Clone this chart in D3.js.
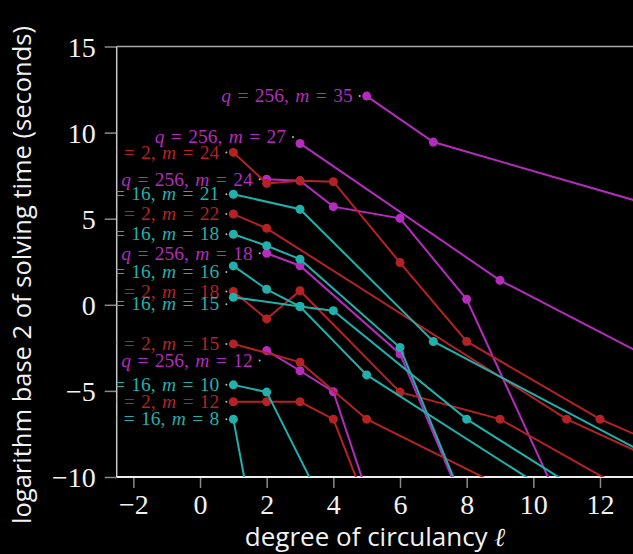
<!DOCTYPE html>
<html>
<head>
<meta charset="utf-8">
<script src="https://cdn.jsdelivr.net/npm/d3@7"></script>
<style>
  html, body { margin: 0; padding: 0; background: #000; overflow: hidden; }
  svg { display: block; }
</style>
</head>
<body>
<div id="chart"></div>
<script>
// degree of circulancy (x) and log2 of solving time (y), one array per run
const q256m35 = [[5, 12.12], [7, 9.45], [15, 4.97]];
const q256m27 = [[3, 9.37], [9, 1.42], [15, -4.58]];
const q256m24 = [[2, 7.29], [3, 7.2], [4, 5.7], [6, 5.02], [8, 0.32], [12, -16.6]];
const q256m18 = [[2, 2.99], [3, 2.27], [6, -2.85], [8, -12.07]];
const q256m12 = [[2, -2.66], [3, -3.83], [4, -5.05], [5, -10.87]];

const q2m24 = [[1, 8.85], [2, 7.05], [3, 7.2], [4, 7.15], [6, 2.45], [8, -2.13], [12, -6.64], [15, -9.16]];
const q2m22 = [[1, 5.27], [2, 4.44], [11, -6.64], [15, -10.2]];
const q2m18 = [[1, 0.77], [2, -0.82], [3, 0.82], [6, -5.07], [9, -6.64], [13, -11.0]];
const q2m15 = [[1, -2.27], [3, -3.33], [5, -6.64], [9, -10.5]];
const q2m12 = [[1, -5.63], [2, -5.63], [3, -5.63], [4, -6.64], [5, -11.6]];

const q16m21 = [[1, 6.42], [3, 5.55], [7, -2.13], [15, -10.3]];
const q16m18 = [[1, 4.1], [2, 3.43], [3, 2.65], [6, -2.48], [8, -11.88]];
const q16m16 = [[1, 2.26], [2, 0.9], [3, -0.1], [5, -4.07], [11, -11.5]];
const q16m15 = [[1, 0.44], [3, -0.1], [4, -0.34], [8, -6.64], [11, -10.3]];
const q16m10 = [[1, -4.65], [2, -5.07], [4, -12.77]];
const q16m8 = [[1, -6.64], [2, -17.0]];

const xTicks = [-2, 0, 2, 4, 6, 8, 10, 12];
const yTicks = [-10, -5, 0, 5, 10, 15];

const runs = [
  { q: 256, m: 35, points: q256m35 },
  { q: 256, m: 27, points: q256m27 },
  { q: 256, m: 24, points: q256m24 },
  { q: 256, m: 18, points: q256m18 },
  { q: 256, m: 12, points: q256m12 },
  { q: 2, m: 24, points: q2m24 },
  { q: 2, m: 22, points: q2m22 },
  { q: 2, m: 18, points: q2m18 },
  { q: 2, m: 15, points: q2m15 },
  { q: 2, m: 12, points: q2m12 },
  { q: 16, m: 21, points: q16m21 },
  { q: 16, m: 18, points: q16m18 },
  { q: 16, m: 16, points: q16m16 },
  { q: 16, m: 15, points: q16m15 },
  { q: 16, m: 10, points: q16m10 },
  { q: 16, m: 8, points: q16m8 }
];

const colors = { 2: '#b52226', 16: '#21b0ab', 256: '#b52bbd' };
// labels nudged up or down so they do not collide
const labelShift = { '256-27': -6.5, '16-16': 6, '16-15': 7, '256-12': 10 };

const width = 633;
const height = 554;
const margin = { top: 46.5, left: 116.7, bottom: 77 };

const x = d3.scaleLinear().domain([-2.5, 16]).range([margin.left, margin.left + 18.5 * 33.33]);
const y = d3.scaleLinear().domain([-10, 15]).range([height - margin.bottom, margin.top]);

const svg = d3.select('#chart').append('svg')
  .attr('width', width)
  .attr('height', height);

svg.append('defs').append('clipPath').attr('id', 'plot')
  .append('rect')
  .attr('x', margin.left)
  .attr('y', margin.top)
  .attr('width', width - margin.left)
  .attr('height', y(-10) - margin.top);

// axes
const minus = d => d < 0 ? '\u2212' + Math.abs(d) : d;
const xAxis = d3.axisBottom(x).tickValues(xTicks).tickSize(11).tickPadding(6).tickFormat(minus);
const yAxis = d3.axisLeft(y).tickValues(yTicks).tickSize(12).tickPadding(9).tickFormat(minus);

const gx = svg.append('g').attr('transform', `translate(0, ${y(-10)})`).call(xAxis);
const gy = svg.append('g').attr('transform', `translate(${margin.left}, 0)`).call(yAxis);

[gx, gy].forEach(g => {
  g.select('.domain').remove();
  g.selectAll('.tick line').attr('stroke', '#8a8a8a').attr('stroke-width', 1.5);
  g.selectAll('.tick text')
    .attr('fill', '#f2f2f2')
    .style('font-family', '"Liberation Serif", "DejaVu Serif", serif')
    .style('font-size', '28px');
});
gy.selectAll('.tick text').attr('dy', '0.34em');

// frame
svg.append('line').attr('x1', margin.left).attr('x2', width)
  .attr('y1', margin.top).attr('y2', margin.top)
  .attr('stroke', '#a8a8a8').attr('stroke-width', 1.5);
svg.append('line').attr('x1', margin.left).attr('x2', margin.left)
  .attr('y1', margin.top).attr('y2', y(-10))
  .attr('stroke', '#c8c8c8').attr('stroke-width', 1.5);
svg.append('line').attr('x1', margin.left).attr('x2', width)
  .attr('y1', y(-10)).attr('y2', y(-10))
  .attr('stroke', '#f0f0f0').attr('stroke-width', 2);

const plot = svg.append('g').attr('clip-path', 'url(#plot)');

const line = d3.line().x(d => x(d[0])).y(d => y(d[1]));

runs.forEach(run => {
  const color = colors[run.q];
  plot.append('path')
    .datum(run.points)
    .attr('fill', 'none')
    .attr('stroke', color)
    .attr('stroke-width', 2)
    .attr('d', line);

  plot.selectAll(null)
    .data(run.points)
    .enter()
    .append('circle')
    .attr('cx', d => x(d[0]))
    .attr('cy', d => y(d[1]))
    .attr('r', 4.5)
    .attr('fill', color);

  const [lx, ly] = run.points[0];
  const shift = labelShift[`${run.q}-${run.m}`] || 0;
  const px = x(lx);
  const py = y(ly) + shift;

  plot.append('circle')
    .attr('cx', px - 7)
    .attr('cy', py)
    .attr('r', 1)
    .attr('fill', '#bbbbbb');

  const label = plot.append('text')
    .attr('x', px - 14)
    .attr('y', py)
    .attr('dy', '0.32em')
    .attr('text-anchor', 'end')
    .attr('fill', color)
    .style('font-family', '"Liberation Serif", "DejaVu Serif", serif')
    .style('font-size', '19.5px')
    .style('word-spacing', '1.5px');
  label.append('tspan').style('font-style', 'italic').text('q');
  label.append('tspan').text(` = ${run.q}, `);
  label.append('tspan').style('font-style', 'italic').text('m');
  label.append('tspan').text(` = ${run.m}`);
});

// axis titles
svg.append('text')
  .attr('x', 375)
  .attr('y', 546)
  .attr('text-anchor', 'middle')
  .attr('fill', '#f2f2f2')
  .style('font-family', '"Open Sans", "DejaVu Sans", sans-serif')
  .style('font-size', '26px')
  .html('degree of circulancy <tspan font-family="Liberation Serif" font-style="italic">ℓ</tspan>');

svg.append('text')
  .attr('transform', `translate(31, ${275}) rotate(-90)`)
  .attr('text-anchor', 'middle')
  .attr('fill', '#f2f2f2')
  .style('font-family', '"Open Sans", "DejaVu Sans", sans-serif')
  .style('font-size', '25.5px')
  .text('logarithm base 2 of solving time (seconds)');
</script>
</body>
</html>
